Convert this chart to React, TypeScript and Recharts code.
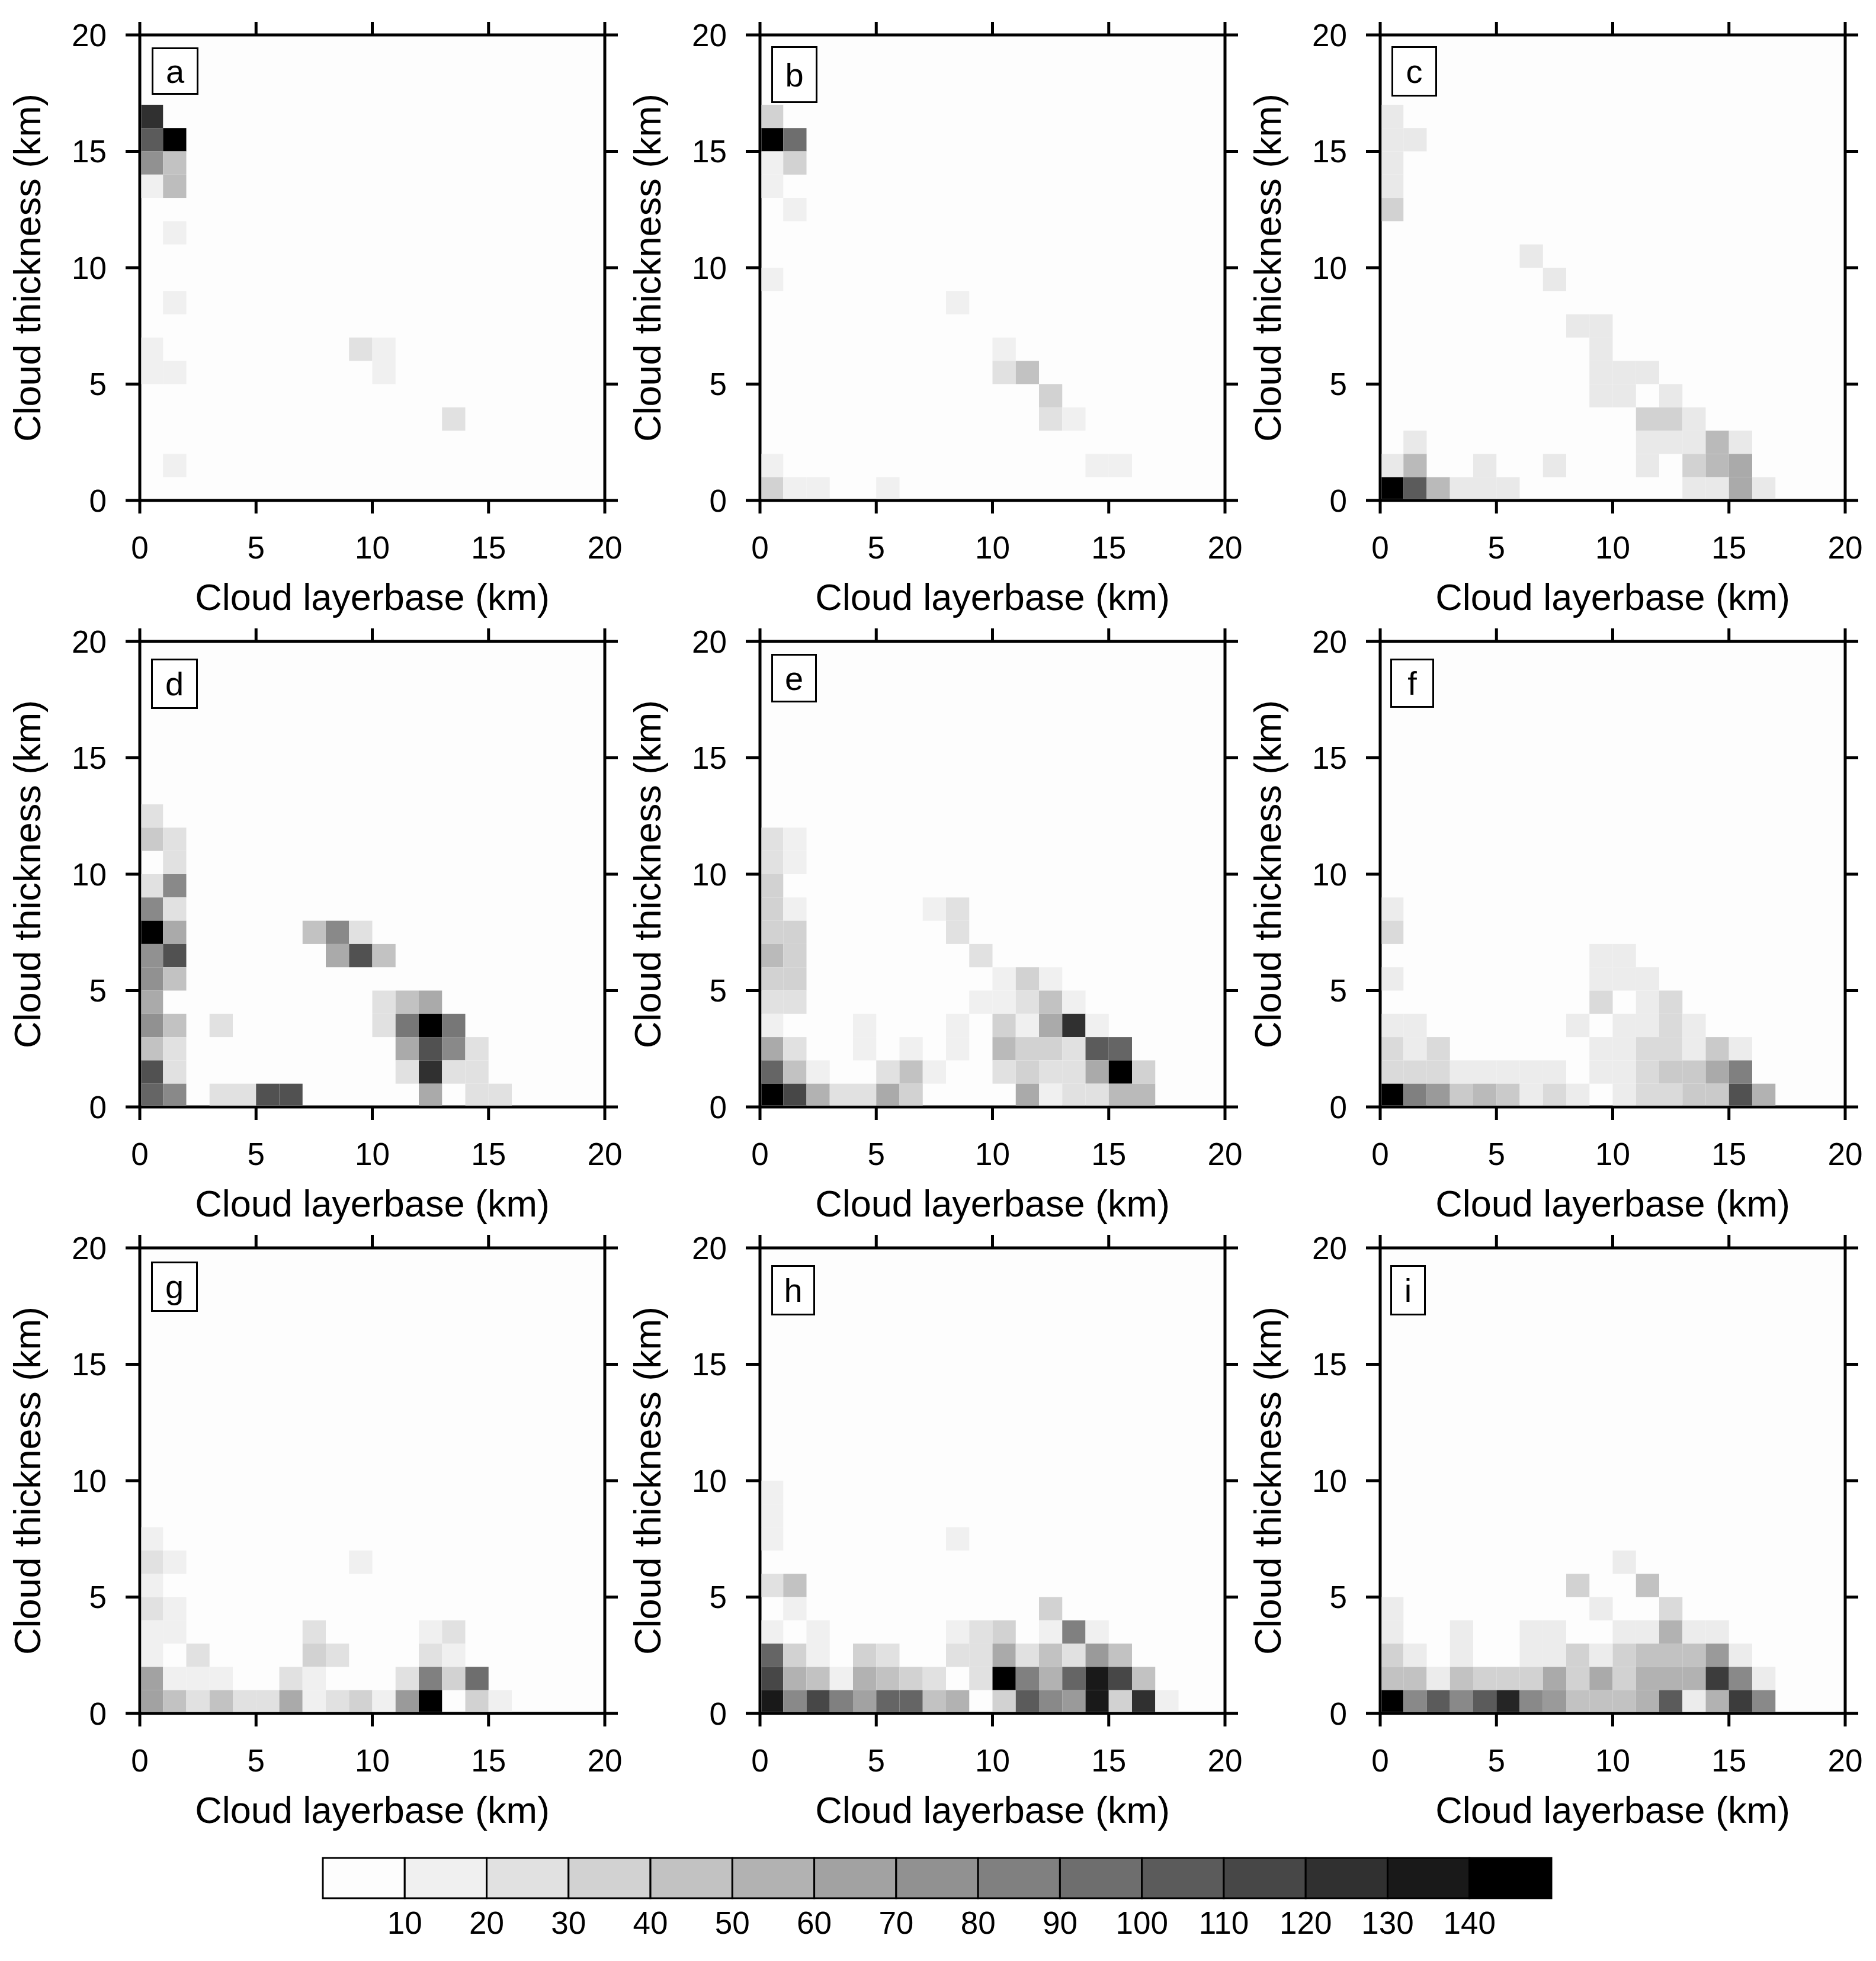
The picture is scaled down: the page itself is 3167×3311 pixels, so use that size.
import {
  Bar,
  BarChart,
  CartesianGrid,
  Scatter,
  ScatterChart,
  XAxis,
  YAxis,
} from "recharts";

// each row: [layer base bin (km), thickness bin (km), count]
const panelA = [
  [0, 16, 125], [0, 15, 105], [1, 15, 145], [0, 14, 75], [1, 14, 45], [0, 13, 15], [1, 13, 48],
  [1, 11, 15], [1, 8, 15], [0, 6, 15], [0, 5, 15], [1, 5, 15], [9, 6, 25], [10, 6, 15], [10, 5, 15],
  [13, 3, 25], [1, 1, 15],
];
const panelB = [
  [0, 16, 35], [0, 15, 145], [1, 15, 95], [0, 14, 15], [1, 14, 35], [0, 13, 15], [1, 12, 15],
  [0, 9, 15], [8, 8, 15], [10, 6, 15], [10, 5, 25], [11, 5, 45], [12, 4, 35], [12, 3, 25], [13, 3, 15],
  [14, 1, 15], [15, 1, 15], [0, 1, 15], [0, 0, 35], [1, 0, 15], [2, 0, 15], [5, 0, 15],
];
const panelC = [
  [0, 16, 20], [0, 15, 20], [1, 15, 20], [0, 14, 20], [0, 13, 20], [0, 12, 35],
  [6, 10, 20], [7, 9, 20], [8, 7, 20], [9, 7, 20], [9, 6, 20], [9, 5, 20], [10, 5, 20], [11, 5, 20],
  [9, 4, 20], [10, 4, 20], [12, 4, 20], [11, 3, 35], [12, 3, 35], [13, 3, 20],
  [1, 2, 20], [11, 2, 20], [12, 2, 20], [13, 2, 20], [14, 2, 50], [15, 2, 20],
  [0, 1, 20], [1, 1, 50], [4, 1, 20], [7, 1, 20], [11, 1, 20], [13, 1, 35], [14, 1, 50], [15, 1, 60],
  [0, 0, 145], [1, 0, 105], [2, 0, 50], [3, 0, 20], [4, 0, 20], [5, 0, 20], [13, 0, 20], [14, 0, 20],
  [15, 0, 60], [16, 0, 20],
];
const panelD = [
  [0, 12, 25], [0, 11, 40], [1, 11, 25], [1, 10, 25], [0, 9, 25], [1, 9, 80], [0, 8, 80], [1, 8, 25],
  [0, 7, 145], [1, 7, 60], [7, 7, 45], [8, 7, 80], [9, 7, 25],
  [0, 6, 75], [1, 6, 110], [8, 6, 60], [9, 6, 110], [10, 6, 45],
  [0, 5, 75], [1, 5, 45], [0, 4, 60], [10, 4, 25], [11, 4, 45], [12, 4, 60],
  [0, 3, 75], [1, 3, 45], [3, 3, 25], [10, 3, 25], [11, 3, 90], [12, 3, 145], [13, 3, 90],
  [0, 2, 45], [1, 2, 25], [11, 2, 60], [12, 2, 110], [13, 2, 80], [14, 2, 25],
  [0, 1, 110], [1, 1, 25], [11, 1, 25], [12, 1, 125], [13, 1, 25], [14, 1, 25],
  [0, 0, 100], [1, 0, 80], [3, 0, 25], [4, 0, 25], [5, 0, 110], [6, 0, 110], [12, 0, 60], [14, 0, 25], [15, 0, 25],
];
const panelE = [
  [0, 11, 25], [1, 11, 15], [0, 10, 25], [1, 10, 15], [0, 9, 35], [0, 8, 35], [1, 8, 15], [7, 8, 15], [8, 8, 25],
  [0, 7, 35], [1, 7, 35], [8, 7, 25], [0, 6, 50], [1, 6, 35], [9, 6, 25],
  [0, 5, 35], [1, 5, 35], [10, 5, 15], [11, 5, 35], [12, 5, 15],
  [0, 4, 25], [1, 4, 25], [9, 4, 15], [10, 4, 15], [11, 4, 25], [12, 4, 45], [13, 4, 15],
  [0, 3, 15], [4, 3, 15], [8, 3, 15], [10, 3, 35], [11, 3, 15], [12, 3, 60], [13, 3, 125], [14, 3, 15],
  [0, 2, 60], [1, 2, 25], [4, 2, 15], [6, 2, 15], [8, 2, 15], [10, 2, 50], [11, 2, 35], [12, 2, 35],
  [13, 2, 25], [14, 2, 105], [15, 2, 100],
  [0, 1, 100], [1, 1, 45], [2, 1, 15], [5, 1, 25], [6, 1, 45], [7, 1, 15], [10, 1, 25], [11, 1, 35],
  [12, 1, 25], [13, 1, 25], [14, 1, 60], [15, 1, 145], [16, 1, 35],
  [0, 0, 145], [1, 0, 115], [2, 0, 55], [3, 0, 25], [4, 0, 25], [5, 0, 60], [6, 0, 35], [11, 0, 60],
  [12, 0, 15], [13, 0, 25], [14, 0, 25], [15, 0, 50], [16, 0, 50],
];
const panelF = [
  [0, 8, 18], [0, 7, 30], [9, 6, 18], [10, 6, 18], [0, 5, 18], [9, 5, 18], [10, 5, 18], [11, 5, 18],
  [9, 4, 30], [11, 4, 18], [12, 4, 30],
  [0, 3, 18], [1, 3, 18], [8, 3, 18], [10, 3, 18], [11, 3, 18], [12, 3, 30], [13, 3, 18],
  [0, 2, 30], [1, 2, 18], [2, 2, 30], [9, 2, 18], [10, 2, 18], [11, 2, 30], [12, 2, 30], [13, 2, 18],
  [14, 2, 40], [15, 2, 18],
  [0, 1, 30], [1, 1, 30], [2, 1, 30], [3, 1, 18], [4, 1, 18], [5, 1, 18], [6, 1, 18], [7, 1, 18],
  [9, 1, 18], [10, 1, 18], [11, 1, 30], [12, 1, 40], [13, 1, 40], [14, 1, 60], [15, 1, 85],
  [0, 0, 145], [1, 0, 85], [2, 0, 70], [3, 0, 40], [4, 0, 50], [5, 0, 40], [6, 0, 18], [7, 0, 30],
  [8, 0, 18], [10, 0, 18], [11, 0, 30], [12, 0, 30], [13, 0, 40], [14, 0, 40], [15, 0, 110], [16, 0, 55],
];
const panelG = [
  [0, 7, 15], [0, 6, 25], [1, 6, 15], [9, 6, 15], [0, 5, 15], [0, 4, 25], [1, 4, 15],
  [0, 3, 15], [1, 3, 15], [7, 3, 25], [12, 3, 15], [13, 3, 25],
  [0, 2, 15], [2, 2, 25], [7, 2, 35], [8, 2, 25], [12, 2, 25], [13, 2, 15],
  [0, 1, 65], [1, 1, 15], [2, 1, 15], [3, 1, 15], [6, 1, 25], [7, 1, 15], [11, 1, 25], [12, 1, 85],
  [13, 1, 35], [14, 1, 95],
  [0, 0, 65], [1, 0, 45], [2, 0, 25], [3, 0, 45], [4, 0, 25], [5, 0, 25], [6, 0, 60], [7, 0, 15],
  [8, 0, 25], [9, 0, 35], [10, 0, 15], [11, 0, 70], [12, 0, 145], [14, 0, 35], [15, 0, 15],
];
const panelH = [
  [0, 9, 15], [0, 8, 15], [0, 7, 15], [8, 7, 15], [0, 5, 25], [1, 5, 45], [1, 4, 15], [12, 4, 35],
  [0, 3, 15], [2, 3, 15], [8, 3, 15], [9, 3, 25], [10, 3, 35], [12, 3, 15], [13, 3, 85], [14, 3, 15],
  [0, 2, 100], [1, 2, 35], [2, 2, 15], [4, 2, 35], [5, 2, 25], [8, 2, 25], [9, 2, 25], [10, 2, 60],
  [11, 2, 25], [12, 2, 45], [13, 2, 25], [14, 2, 70], [15, 2, 45],
  [0, 1, 115], [1, 1, 55], [2, 1, 45], [3, 1, 15], [4, 1, 55], [5, 1, 45], [6, 1, 35], [7, 1, 25],
  [9, 1, 25], [10, 1, 145], [11, 1, 85], [12, 1, 55], [13, 1, 100], [14, 1, 135], [15, 1, 115], [16, 1, 45],
  [0, 0, 135], [1, 0, 80], [2, 0, 115], [3, 0, 85], [4, 0, 65], [5, 0, 100], [6, 0, 100], [7, 0, 45],
  [8, 0, 55], [10, 0, 35], [11, 0, 105], [12, 0, 80], [13, 0, 70], [14, 0, 135], [15, 0, 35], [16, 0, 125], [17, 0, 15],
];
const panelI = [
  [10, 6, 18], [8, 5, 35], [11, 5, 45], [0, 4, 18], [9, 4, 18], [12, 4, 30],
  [0, 3, 18], [3, 3, 18], [6, 3, 18], [7, 3, 18], [10, 3, 18], [11, 3, 18], [12, 3, 55], [13, 3, 18], [14, 3, 18],
  [0, 2, 35], [1, 2, 18], [3, 2, 18], [6, 2, 18], [7, 2, 18], [8, 2, 35], [9, 2, 18], [10, 2, 35],
  [11, 2, 45], [12, 2, 45], [13, 2, 45], [14, 2, 70], [15, 2, 18],
  [0, 1, 45], [1, 1, 45], [2, 1, 18], [3, 1, 45], [4, 1, 35], [5, 1, 35], [6, 1, 35], [7, 1, 60],
  [8, 1, 35], [9, 1, 60], [10, 1, 35], [11, 1, 55], [12, 1, 55], [13, 1, 55], [14, 1, 120], [15, 1, 80], [16, 1, 18],
  [0, 0, 145], [1, 0, 80], [2, 0, 105], [3, 0, 80], [4, 0, 105], [5, 0, 130], [6, 0, 80], [7, 0, 70],
  [8, 0, 45], [9, 0, 45], [10, 0, 45], [11, 0, 55], [12, 0, 105], [13, 0, 18], [14, 0, 55], [15, 0, 120], [16, 0, 80],
];

const panelData = [panelA, panelB, panelC, panelD, panelE, panelF, panelG, panelH, panelI];
const panelLetters = ["a", "b", "c", "d", "e", "f", "g", "h", "i"];
const axisTicks = [0, 5, 10, 15, 20];

// colour bar
const barGreys = [253, 240, 225, 210, 194, 178, 162, 145, 128, 110, 91, 71, 48, 25, 0];
const barTicks = [10, 20, 30, 40, 50, 60, 70, 80, 90, 100, 110, 120, 130, 140];

const FONT = "'Liberation Sans', Arial, sans-serif";
const CHART_W = 1060;
const CHART_H = 1080;
const PLOT_W = 785;
const PLOT_H = 786;
const AXIS_W = 5;
const TICK_LEN = 22;

// left, top, width, height of the letter box, page coordinates
const letterBoxes = [
  [256, 80, 79, 80], [1302, 78, 78, 96], [2349, 78, 77, 85],
  [255, 1112, 79, 85], [1302, 1104, 77, 82], [2347, 1112, 74, 83],
  [255, 2130, 79, 85], [1302, 2136, 74, 85], [2347, 2136, 60, 85],
];

function greyFor(value: number) {
  const t = value / 10 - 0.5;
  const lo = Math.floor(t);
  const hi = Math.min(lo + 1, barGreys.length - 1);
  const g = Math.round(barGreys[lo] + (barGreys[hi] - barGreys[lo]) * (t - lo));
  return `rgb(${g},${g},${g})`;
}

// series paint over the axes, so cells in the first row/column stop at the axis line
function CellRect(props: any) {
  const { cx, cy, payload } = props;
  const w = PLOT_W / 20;
  const h = PLOT_H / 20;
  const insetLeft = payload.x < 1 ? AXIS_W / 2 : 0;
  const insetBottom = payload.y < 1 ? AXIS_W / 2 : 0;
  return (
    <rect
      x={cx - w / 2 + insetLeft}
      y={cy - h / 2}
      width={w - insetLeft}
      height={h - insetBottom}
      fill={greyFor(payload.count)}
    />
  );
}

const EmptyShape = () => <g />;

// tickSize and tickMargin are 0 on these axes, so x, y sit on the axis line
function BottomTick({ x, y, payload }: any) {
  return (
    <g>
      <line x1={x} x2={x} y1={y} y2={y + TICK_LEN} stroke="#000" strokeWidth={AXIS_W} />
      <text x={x} y={y + 98} textAnchor="middle" fontSize={53} fontFamily={FONT} fill="#000">
        {payload.value}
      </text>
    </g>
  );
}

function TopTick({ x, y }: any) {
  return (
    <g>
      <line x1={x} x2={x} y1={y - TICK_LEN} y2={y} stroke="#000" strokeWidth={AXIS_W} />
    </g>
  );
}

function RightTick({ x, y }: any) {
  return (
    <g>
      <line x1={x} x2={x + TICK_LEN} y1={y} y2={y} stroke="#000" strokeWidth={AXIS_W} />
    </g>
  );
}

function Panel({ rows, index }: { rows: number[][]; index: number }) {
  const data = rows.map(([x, y, count]) => ({ x: x + 0.5, y: y + 0.5, count }));
  const axisLine = { stroke: "#000", strokeWidth: AXIS_W };
  const tickLine = { stroke: "#000", strokeWidth: AXIS_W };
  const tick = { fill: "#000", fontSize: 53, fontFamily: FONT };
  const box = letterBoxes[index];
  return (
    <>
      <div style={{ position: "absolute", left: (index % 3) * 1047, top: Math.floor(index / 3) * 1024 }}>
        <ScatterChart width={CHART_W} height={CHART_H} margin={{ top: 0, right: 0, bottom: 0, left: 0 }}>
          <CartesianGrid horizontal={false} vertical={false} fill="#fdfdfd" />
          <Scatter data={data} shape={CellRect} isAnimationActive={false} />
          {/* the top and right axes only draw their ticks with a series on them */}
          <Scatter data={data} xAxisId="top" yAxisId="right" shape={EmptyShape} isAnimationActive={false} />
          <XAxis
            type="number"
            dataKey="x"
            domain={[0, 20]}
            ticks={axisTicks}
            interval={0}
            height={CHART_H - PLOT_H - 59}
            tickSize={0}
            tickMargin={0}
            axisLine={axisLine}
            tickLine={false}
            tick={BottomTick}
            label={{ value: "Cloud layerbase (km)", position: "insideBottom", offset: 50, fontSize: 63, fill: "#000", fontFamily: FONT }}
          />
          <XAxis
            xAxisId="top"
            orientation="top"
            type="number"
            dataKey="x"
            domain={[0, 20]}
            ticks={axisTicks}
            interval={0}
            height={59}
            tickSize={0}
            tickMargin={0}
            axisLine={axisLine}
            tickLine={false}
            tick={TopTick}
          />
          <YAxis
            type="number"
            dataKey="y"
            domain={[0, 20]}
            ticks={axisTicks}
            interval={0}
            width={236}
            tickSize={24}
            tickMargin={32}
            axisLine={axisLine}
            tickLine={tickLine}
            tick={tick}
            label={{
              value: "Cloud thickness (km)",
              angle: -90,
              position: "insideLeft",
              offset: 46,
              fontSize: 63,
              fill: "#000",
              fontFamily: FONT,
              style: { textAnchor: "middle" },
            }}
          />
          <YAxis
            yAxisId="right"
            orientation="right"
            type="number"
            dataKey="y"
            domain={[0, 20]}
            ticks={axisTicks}
            interval={0}
            width={39}
            tickSize={0}
            tickMargin={0}
            axisLine={axisLine}
            tickLine={false}
            tick={RightTick}
          />
        </ScatterChart>
      </div>
      <div
        style={{
          position: "absolute",
          left: box[0],
          top: box[1],
          width: box[2],
          height: box[3],
          boxSizing: "border-box",
          border: "3px solid #000",
          background: "#fff",
          fontFamily: FONT,
          fontSize: 56,
          display: "flex",
          alignItems: "center",
          justifyContent: "center",
        }}
      >
        {panelLetters[index]}
      </div>
    </>
  );
}

function ColourBar() {
  const row: Record<string, number | string> = { name: "count" };
  barGreys.forEach((_, i) => {
    row[`level${i}`] = 10;
  });
  return (
    <div style={{ position: "absolute", left: 500, top: 3100 }}>
      <BarChart
        width={2200}
        height={211}
        layout="vertical"
        data={[row]}
        barCategoryGap={0}
        margin={{ top: 37, right: 81, bottom: 0, left: 45 }}
      >
        {barGreys.map((g, i) => (
          <Bar
            key={i}
            dataKey={`level${i}`}
            stackId="bar"
            fill={`rgb(${g},${g},${g})`}
            stroke="#000"
            strokeWidth={3}
            isAnimationActive={false}
          />
        ))}
        <XAxis
          type="number"
          domain={[0, 150]}
          ticks={barTicks}
          interval={0}
          height={106}
          axisLine={false}
          tickLine={false}
          tickMargin={16}
          tick={{ fill: "#000", fontSize: 53, fontFamily: FONT }}
        />
        <YAxis type="category" dataKey="name" hide />
      </BarChart>
    </div>
  );
}

export default function App() {
  return (
    <div style={{ position: "absolute", left: 0, top: 0, width: 3167, height: 3311, background: "#fff", overflow: "hidden" }}>
      {panelData.map((rows, i) => (
        <Panel key={i} rows={rows} index={i} />
      ))}
      <ColourBar />
    </div>
  );
}
